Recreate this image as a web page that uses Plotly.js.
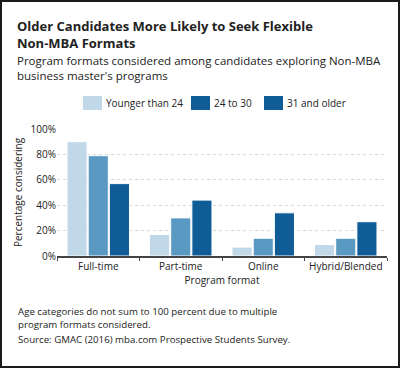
<!DOCTYPE html>
<html><head><meta charset="utf-8">
<script src="https://cdn.plot.ly/plotly-3.0.1.min.js"></script>
<style>
html,body{margin:0;padding:0;background:#fff;}
#frame{width:400px;height:368px;box-sizing:border-box;border:2px solid #1a1a1a;overflow:hidden;}
#chart{width:396px;height:364px;}
</style></head>
<body><div id="frame"><div id="chart"></div></div>
<script>
const categories = ["Full-time", "Part-time", "Online", "Hybrid/Blended"];
const seriesNames = ["Younger than 24", "24 to 30", "31 and older"];
const youngerThan24 = [90, 17, 7, 9];
const age24to30 = [79, 30, 14, 14];
const age31andOlder = [57, 44, 34, 27];
const barColors = ["#c0d8e8", "#5a9ac2", "#0f5c97"];
const legendColors = ["#c0d8e8", "#0f5c97", "#0f5c97"];
const yTicks = [0, 20, 40, 60, 80, 100];

const FONT = "Open Sans, Noto Sans, sans-serif";
const W = 396, H = 364;
const M = {l: 55, r: 11, t: 127, b: 110};
const ph = H - M.t - M.b, pw = W - M.l - M.r;
// convert page pixel (in 400x368 frame) to paper coords
const px = x => ((x - 2) - M.l) / pw;
const py = y => (H - M.b - (y - 2)) / ph;

const series = [youngerThan24, age24to30, age31andOlder];
const traces = series.map((vals, i) => ({
  type: "bar", name: seriesNames[i], x: categories, y: vals,
  marker: {color: barColors[i], line: {color: "#ffffff", width: 1}},
  showlegend: false, hoverinfo: "skip"
}));

const txt = (text, x, y, size, extra) => Object.assign({
  text, xref: "paper", yref: "paper", x: px(x), y: py(y), xanchor: "left", yanchor: "middle",
  showarrow: false, align: "left", borderpad: 0, font: {family: FONT, size, color: "#222"}
}, extra || {});

// legend row (swatches + labels) laid out like the original
const legendSwatchX = [83, 191, 264];
const legendShapes = seriesNames.map((n, i) => ({
  type: "rect", xref: "paper", yref: "paper",
  x0: px(legendSwatchX[i]), x1: px(legendSwatchX[i] + 19),
  y0: py(110), y1: py(96),
  fillcolor: legendColors[i], line: {width: 0}
}));
const legendLabels = seriesNames.map((n, i) => txt(n, legendSwatchX[i] + 22, 103, 10));

const layout = {
  width: W, height: H,
  margin: M,
  paper_bgcolor: "#fff", plot_bgcolor: "#fff",
  font: {family: FONT, size: 10, color: "#222"},
  showlegend: false,
  barmode: "group", bargap: 0.23, bargroupgap: 0.05,
  xaxis: {
    type: "category", tickson: "boundaries", ticks: "outside", ticklen: 3,
    tickcolor: "#444", showline: true, linecolor: "#444", linewidth: 1.5,
    tickangle: 0, tickfont: {size: 10, color: "#222"},
    title: {text: "Program format", font: {size: 10, color: "#222"}, standoff: 4},
    fixedrange: true
  },
  yaxis: {
    range: [0, 100], tickvals: yTicks, ticktext: yTicks.map(v => v + "%"),
    showgrid: true, gridcolor: "#d8d8d8", griddash: "dot", gridwidth: 1,
    zeroline: false, ticks: "", tickfont: {size: 10, color: "#222"},
    title: {text: "Percentage considering", font: {size: 10, color: "#222"}, standoff: 6},
    fixedrange: true
  },
  shapes: legendShapes,
  annotations: [
    txt("<b>Older Candidates More Likely to Seek Flexible<br>Non-MBA Formats</b>", 16, 34.5, 13),
    txt("Program formats considered among candidates exploring Non-MBA<br>business master's programs", 16, 67.5, 11.5),
    txt("Age categories do not sum to 100 percent due to multiple<br>program formats considered.", 17, 318, 9.7),
    txt("Source: GMAC (2016) mba.com Prospective Students Survey.", 17, 339.5, 9.7)
  ].concat(legendLabels)
};

Plotly.newPlot("chart", traces, layout, {displayModeBar: false, staticPlot: true});
</script></body></html>
